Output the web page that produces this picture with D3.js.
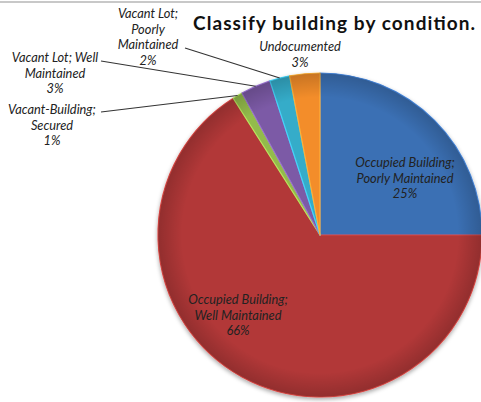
<!DOCTYPE html>
<html>
<head>
<meta charset="utf-8">
<script src="https://cdn.jsdelivr.net/npm/d3@7"></script>
<style>
  body { margin: 0; background: #fff; }
  svg text { font-family: Lato, "Open Sans", sans-serif; }
  .lbl { font-style: italic; font-size: 12.8px; fill: #222; }
  .title { font-weight: bold; font-size: 19px; fill: #111; }
</style>
</head>
<body>
<div id="graph"></div>
<script>
// slices, clockwise from 12 o'clock
var categories = [
  "Occupied Building; Poorly Maintained",
  "Occupied Building; Well Maintained",
  "Vacant-Building; Secured",
  "Vacant Lot; Well Maintained",
  "Vacant Lot; Poorly Maintained",
  "Undocumented",
];
var values = [25, 66, 1, 3, 2, 3];
var colors = ["#3a6fb4", "#b23937", "#93bb4c", "#7b5aa6", "#36acc9", "#f38d2c"];

// label lines as they appear in the picture
var labelLines = [
  ["Occupied Building;", "Poorly Maintained", "25%"],
  ["Occupied Building;", "Well Maintained", "66%"],
  ["Vacant-Building;", "Secured", "1%"],
  ["Vacant Lot; Well", "Maintained", "3%"],
  ["Vacant Lot;", "Poorly", "Maintained", "2%"],
  ["Undocumented", "3%"],
];
// where each label block sits (first line baseline) and where its leader starts
var labelPos = [
  { x: 405, y: 167 },
  { x: 238, y: 304 },
  { x: 52, y: 114, lx: 101, ly: 112 },
  { x: 55, y: 62, lx: 101, ly: 61 },
  { x: 148, y: 18, lx: 185, ly: 48 },
  { x: 300, y: 51 },
];

var width = 481, height = 402;
var cx = 320, cy = 235, r = 162;

var data = values.map(function (v, i) {
  return { name: categories[i], value: v, color: colors[i], lines: labelLines[i], pos: labelPos[i] };
});

var svg = d3.select("#graph").append("svg")
  .attr("width", width).attr("height", height);

// thin rule along the top
svg.append("rect").attr("x", 0).attr("y", 1).attr("width", width).attr("height", 2).attr("fill", "#c8c8c8");

var defs = svg.append("defs");
var shadow = defs.append("filter").attr("id", "shadow")
  .attr("x", "-10%").attr("y", "-10%").attr("width", "120%").attr("height", "120%");
shadow.append("feDropShadow").attr("dx", 0).attr("dy", 2).attr("stdDeviation", 2)
  .attr("flood-color", "#000").attr("flood-opacity", 0.35);

var shade = defs.append("radialGradient").attr("id", "shade")
  .attr("gradientUnits", "userSpaceOnUse")
  .attr("cx", 0).attr("cy", 0).attr("r", r);
shade.append("stop").attr("offset", "0.85").attr("stop-color", "#000").attr("stop-opacity", 0);
shade.append("stop").attr("offset", "1").attr("stop-color", "#000").attr("stop-opacity", 0.18);

var pie = d3.pie().sort(null).value(function (d) { return d.value; });
var arc = d3.arc().innerRadius(0).outerRadius(r);
var arcs = pie(data);

var g = svg.append("g").attr("transform", "translate(" + cx + "," + cy + ")");

var slices = g.append("g").attr("filter", "url(#shadow)");
slices.selectAll("path.slice")
  .data(arcs)
  .join("path")
  .attr("class", "slice")
  .attr("d", arc)
  .attr("fill", function (d) { return d.data.color; })
  .attr("stroke", function (d) { return d3.color(d.data.color).brighter(0.6); })
  .attr("stroke-width", 1.2)
  .attr("stroke-linejoin", "round");

g.selectAll("path.shade")
  .data(arcs)
  .join("path")
  .attr("class", "shade")
  .attr("d", arc)
  .attr("fill", "url(#shade)");

// leader lines for the small slices
var edgeArc = d3.arc().innerRadius(r).outerRadius(r);
g.selectAll("line.leader")
  .data(arcs.filter(function (d) { return d.data.pos.lx != null; }))
  .join("line")
  .attr("class", "leader")
  .attr("x1", function (d) { return d.data.pos.lx - cx; })
  .attr("y1", function (d) { return d.data.pos.ly - cy; })
  .attr("x2", function (d) { return edgeArc.centroid(d)[0]; })
  .attr("y2", function (d) { return edgeArc.centroid(d)[1]; })
  .attr("stroke", "#333")
  .attr("stroke-width", 1.1);

// labels
var lab = svg.selectAll("text.lbl")
  .data(data)
  .join("text")
  .attr("class", "lbl")
  .attr("text-anchor", "middle")
  .attr("x", function (d) { return d.pos.x; })
  .attr("y", function (d) { return d.pos.y; });

lab.selectAll("tspan")
  .data(function (d) { return d.lines.map(function (t) { return { t: t, x: d.pos.x }; }); })
  .join("tspan")
  .attr("x", function (d) { return d.x; })
  .attr("dy", function (d, i) { return i ? 15.5 : 0; })
  .text(function (d) { return d.t; });

svg.append("text")
  .attr("class", "title")
  .attr("x", 193)
  .attr("y", 30)
  .attr("textLength", 282)
  .attr("lengthAdjust", "spacing")
  .text("Classify building by condition.");
</script>
</body>
</html>
